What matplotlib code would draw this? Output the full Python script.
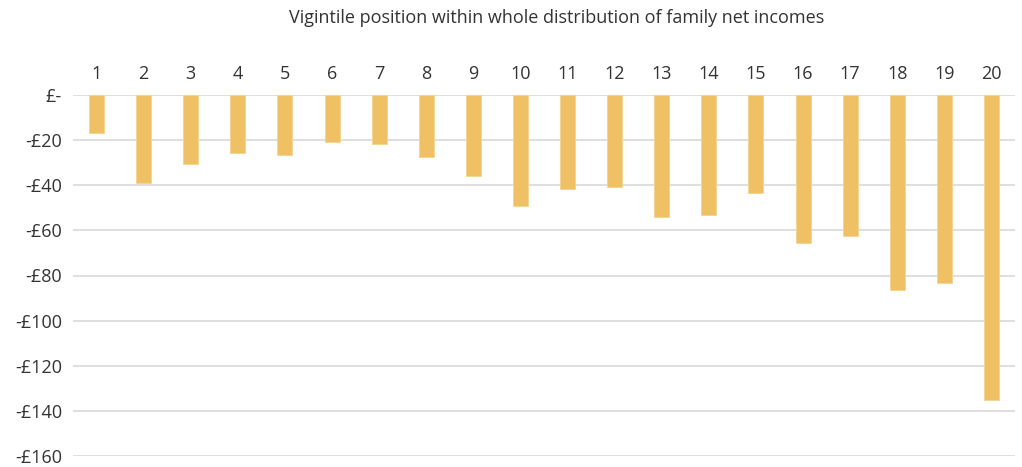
import matplotlib
matplotlib.use("Agg")
import matplotlib.pyplot as plt

categories = [str(i) for i in range(1, 21)]
values = [-16.8, -38.9, -30.5, -25.7, -26.5, -20.8, -21.7, -27.4, -35.8, -49.1,
          -41.6, -40.7, -54.0, -53.1, -43.4, -65.5, -62.4, -86.3, -83.2, -135.4]
yticks = [0, -20, -40, -60, -80, -100, -120, -140, -160]
ytick_labels = ["£-", "-£20", "-£40", "-£60", "-£80", "-£100", "-£120", "-£140", "-£160"]
title = "Vigintile position within whole distribution of family net incomes"

plt.rcParams['font.family'] = ['Open Sans', 'DejaVu Sans']

W, H = 1022, 467
fig = plt.figure(figsize=(W/100, H/100), dpi=100)
ax = fig.add_axes([73/W, 1-456/H, (1015-73)/W, (456-95)/H])

x = list(range(len(categories)))
ax.bar(x, values, width=0.32, color="#F0C164", edgecolor="#F5D48E", linewidth=0.6, zorder=3)

ax.set_xlim(-0.5, len(categories)-0.5)
ax.set_ylim(-160, 0)
ax.set_yticks(yticks)
ax.set_yticklabels(ytick_labels, fontsize=13, color="#333333")
ax.yaxis.grid(True, color="#d9d9d9", linewidth=1.2, zorder=0)
ax.tick_params(axis='y', length=0, pad=8)

ax.xaxis.tick_top()
ax.set_xticks(x)
ax.set_xticklabels(categories, fontsize=13, color="#333333")
ax.tick_params(axis='x', length=0, pad=9)

for s in ax.spines.values():
    s.set_visible(False)

fig.text((73+1015)/2/W + 0.012, 1-18/H, title, ha='center', va='center', fontsize=13, color="#333333")

fig.savefig("out.png", dpi=100)
